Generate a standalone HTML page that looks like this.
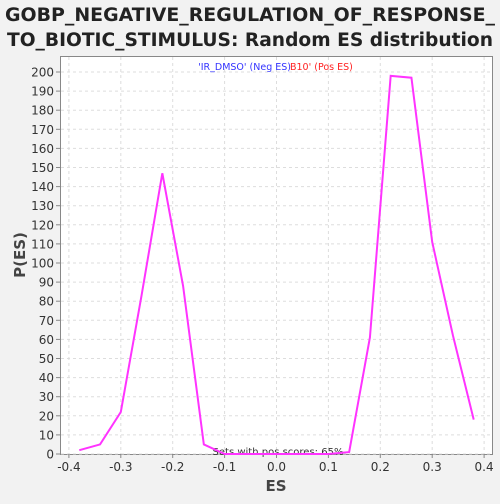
<!DOCTYPE html>
<html><head><meta charset="utf-8"><style>
body{margin:0;background:#f2f2f2;width:500px;height:500px;overflow:hidden;font-family:"DejaVu Sans","Liberation Sans",sans-serif}
</style></head><body>
<svg width="500" height="500">
<text x="250" y="21" text-anchor="middle" font-size="18.5" font-weight="bold" fill="#222" textLength="490" lengthAdjust="spacingAndGlyphs">GOBP_NEGATIVE_REGULATION_OF_RESPONSE_</text>
<text x="250" y="46" text-anchor="middle" font-size="18.5" font-weight="bold" fill="#222" textLength="486" lengthAdjust="spacingAndGlyphs">TO_BIOTIC_STIMULUS: Random ES distribution</text>
<rect x="60.5" y="56.5" width="432" height="398" fill="#fff" stroke="#888"/>
<g id="grid"></g><g id="axes"></g>
<text x="291" y="70" text-anchor="end" font-size="9.5" fill="#3333ff">'IR_DMSO' (Neg ES)</text>
<text x="290" y="70" font-size="9.5" fill="#ff2222">B10' (Pos ES)</text>
<text x="278" y="455" text-anchor="middle" font-size="10" fill="#333">Sets with pos scores: 65%</text>
<text x="276" y="491" text-anchor="middle" font-size="15" font-weight="bold" fill="#444">ES</text>
<text transform="translate(25,255) rotate(-90)" text-anchor="middle" font-size="15" font-weight="bold" fill="#444">P(ES)</text>
<polyline id="line" fill="none" stroke="#ff33ff" stroke-width="2"/>
</svg>
<script>
const esValues=[-0.38,-0.34,-0.30,-0.26,-0.22,-0.18,-0.14,-0.10,-0.06,-0.02,0.02,0.06,0.10,0.14,0.18,0.22,0.26,0.30,0.34,0.38];
const pValues=[2,5,22,83,147,88,5,0,0,0,0,0,0,1,61,198,197,111,62,18];
const xTicks=[-0.4,-0.3,-0.2,-0.1,0.0,0.1,0.2,0.3,0.4];
const yTicks=[0,10,20,30,40,50,60,70,80,90,100,110,120,130,140,150,160,170,180,190,200];
const X=v=>276.5+v*519, Y=v=>454-v*1.91;
const ns="http://www.w3.org/2000/svg";
const g=document.getElementById('grid'),a=document.getElementById('axes');
function mk(p,t,at){const e=document.createElementNS(ns,t);for(const k in at)e.setAttribute(k,at[k]);p.appendChild(e);return e;}
xTicks.forEach(t=>{const x=X(t);
const l=mk(g,'line',{x1:x,x2:x,y1:57,y2:454,stroke:'#ddd','stroke-dasharray':'3,3'});


mk(a,'line',{x1:x,x2:x,y1:454,y2:458,stroke:'#888'});
const tx=mk(a,'text',{x:x,y:471,'text-anchor':'middle','font-size':'12',fill:'#333'});tx.textContent=t.toFixed(1);

});
yTicks.forEach(t=>{const y=Y(t);
const l=mk(g,'line',{x1:61,x2:492,y1:y,y2:y,stroke:'#ddd','stroke-dasharray':'3,3'});


mk(a,'line',{x1:56,x2:60,y1:y,y2:y,stroke:'#888'});
const tx=mk(a,'text',{x:54,y:y+4.5,'text-anchor':'end','font-size':'12',fill:'#333'});tx.textContent=t;

});
document.getElementById('line').setAttribute('points',esValues.map((v,i)=>X(v)+','+Y(pValues[i])).join(' '));
</script>
</body></html>
